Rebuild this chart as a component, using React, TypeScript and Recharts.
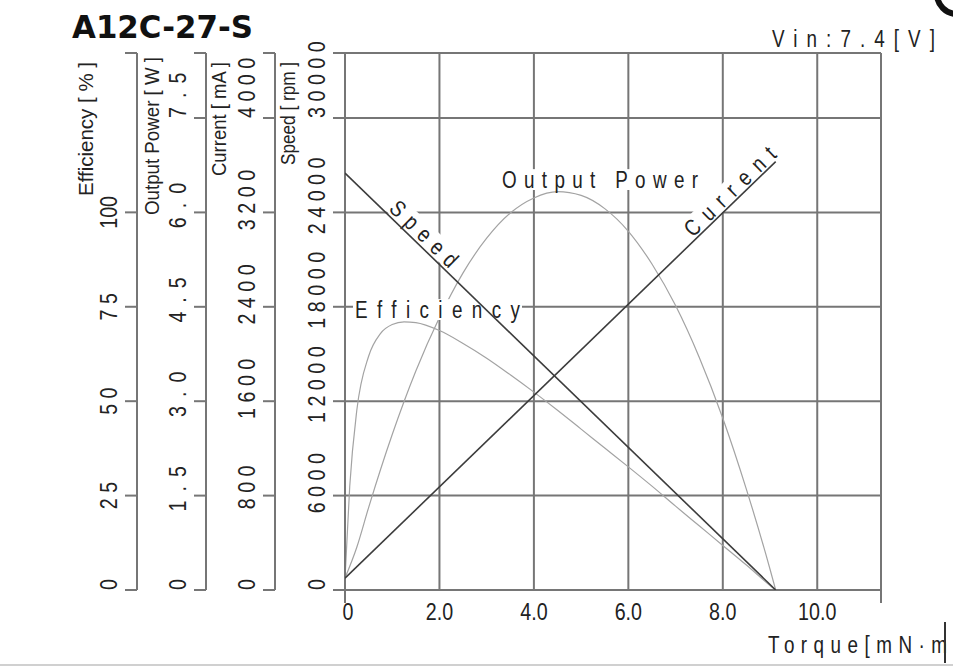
import React from 'react';
import { LineChart, Line, XAxis, YAxis, CartesianGrid } from 'recharts';

// ---------- text ----------
const TITLE = 'A12C-27-S';
const VIN_LABEL = 'Vin:7.4[V]';
const X_TITLE = 'Torque[mN·m';
const EFF_TITLE = 'Efficiency [ % ]';
const POW_TITLE = 'Output Power [ W ]';
const CUR_TITLE = 'Current [ mA ]';
const SPD_TITLE = 'Speed [ rpm ]';

// ---------- axes ----------
const torqueTicks = [0, 2, 4, 6, 8, 10];
const torqueTickLabels = ['0', '2.0', '4.0', '6.0', '8.0', '10.0'];
const torqueMax = 11.35;

const effTicks = [0, 25, 50, 75, 100];
const effTickLabels = ['0', '2 5', '5 0', '7 5', '100'];
const effMax = 142.2;

const powTicks = [0, 1.5, 3, 4.5, 6, 7.5];
const powTickLabels = ['0', '1.5', '3.0', '4.5', '6.0', '7.5'];
const powMax = 8.533;

const curTicks = [0, 800, 1600, 2400, 3200, 4000];
const curTickLabels = ['0', '800', '1600', '2400', '3200', '4000'];
const curMax = 4551;

const spdTicks = [0, 6000, 12000, 18000, 24000, 30000];
const spdTickLabels = ['0', '6000', '12000', '18000', '24000', '30000'];
const spdMax = 34130;

// ---------- series ----------
const speedTorque = [0, 9.12];
const speedValues = [26500, 0];

const currentTorque = [0, 9.12];
const currentValues = [100, 3630];

const powerTorque = [0, 0.25, 0.5, 1, 1.5, 2, 2.5, 3, 3.5, 4, 4.5, 5, 5.5, 6, 6.5, 7, 7.5, 8, 8.5, 9, 9.12];
const powerValues = [0.19, 0.68, 1.31, 2.47, 3.48, 4.33, 5.04, 5.59, 5.99, 6.23, 6.33, 6.27, 6.06, 5.7, 5.18, 4.52, 3.7, 2.73, 1.6, 0.33, 0];

const effTorque = [0, 0.1, 0.25, 0.5, 0.75, 1, 1.25, 1.5, 2, 2.5, 3, 3.5, 4, 4.5, 5, 5.5, 6, 6.5, 7, 7.5, 8, 8.5, 9, 9.12];
const effValues = [3, 27.4, 47.6, 61.9, 67.9, 70.3, 71.0, 70.8, 68.7, 65.3, 61.4, 57.0, 52.4, 47.6, 42.6, 37.6, 32.6, 27.5, 22.2, 17.0, 11.8, 6.6, 1.2, 0];

const toRows = (xs: number[], ys: number[]) => xs.map((t, i) => ({ t, v: ys[i] }));
const speedData = toRows(speedTorque, speedValues);
const currentData = toRows(currentTorque, currentValues);
const powerData = toRows(powerTorque, powerValues);
const effData = toRows(effTorque, effValues);

// ---------- style ----------
const SANS = '"Liberation Sans", Arial, sans-serif';
const SQ = 0.82; // horizontal squeeze to mimic a narrow face
const GRID = '#767676';
const TXT = '#222';
const DIGIT_W = 11;
const W = 953;
const H = 668;
const MARGIN = { top: 53, right: 72, bottom: 38, left: 68 };

type NProps = {
  x: number;
  y: number;
  rot?: number;
  size: number;
  len?: number;
  ls?: number;
  box?: boolean;
  anchor?: 'start' | 'middle' | 'end';
  adjust?: 'spacing' | 'spacingAndGlyphs';
  children: React.ReactNode;
};

const NText = ({ x, y, rot = 0, size, len, ls, box, anchor = 'start', adjust = 'spacing', children }: NProps) => (
  <g transform={`translate(${x} ${y}) rotate(${rot})`}>
    {box && len && <rect x={-2} y={-size * 0.82} width={len + 4} height={size * 0.82 + 2} fill="#fff" />}
    <text
      transform={`scale(${SQ} 1)`}
      x={0}
      y={0}
      fontSize={size}
      fill={TXT}
      fontFamily={SANS}
      textAnchor={anchor}
      letterSpacing={ls ? ls / SQ : undefined}
      textLength={len ? len / SQ : undefined}
      lengthAdjust={len ? adjust : undefined}
    >
      {children}
    </text>
  </g>
);

const estLen = (s: string, ls: number) => {
  let w = 0;
  for (const ch of s) w += ch === '.' || ch === ' ' ? DIGIT_W / 2 : DIGIT_W;
  return w + (s.length - 1) * ls;
};

const makeYTick = (ticks: number[], labels: string[], ls: number, topAtTick: boolean) => (props: any) => {
  const { x, y, payload } = props;
  const idx = ticks.indexOf(payload.value);
  if (idx < 0) return <g />;
  const label = labels[idx];
  const bx = x - 8;
  const isTop = topAtTick && idx === ticks.length - 1;
  const isZero = payload.value === 0;
  if (isTop || isZero) {
    return (
      <NText x={bx} y={y} rot={-90} size={24} ls={ls}>
        {label}
      </NText>
    );
  }
  const shift = topAtTick ? 0.25 * estLen(label, ls) : 0;
  return (
    <NText x={bx} y={y - shift} rot={-90} size={24} ls={ls} anchor="middle">
      {label}
    </NText>
  );
};

const XTick = (props: any) => {
  const { x, y, payload } = props;
  const v = payload.value;
  const idx = torqueTicks.indexOf(v);
  return (
    <g>
      {(v === 0 || v === torqueMax) && (
        <line x1={x} x2={x} y1={y} y2={y + 13} stroke={GRID} strokeWidth={2} />
      )}
      {idx >= 0 && (
        <NText x={x + (v === 0 ? 3 : 0)} y={y + 30} size={24} anchor="middle">
          {torqueTickLabels[idx]}
        </NText>
      )}
    </g>
  );
};

const axes = (visible: boolean) => {
  const line = visible ? { stroke: GRID, strokeWidth: 2 } : false;
  const common = {
    type: 'number' as const,
    interval: 0 as const,
    allowDataOverflow: true,
    tickSize: 12,
    tickMargin: 0,
    axisLine: line,
    tickLine: line,
  };
  return [
    <XAxis
      key="x"
      xAxisId="t"
      dataKey="t"
      type="number"
      domain={[0, torqueMax]}
      ticks={[...torqueTicks, torqueMax]}
      interval={0}
      allowDataOverflow
      height={40}
      tickSize={0}
      tickMargin={0}
      tickLine={false}
      axisLine={line}
      tick={visible ? XTick : false}
    />,
    <YAxis
      key="spd"
      yAxisId="y1spd"
      {...common}
      domain={[0, spdMax]}
      ticks={[...spdTicks, spdMax]}
      width={70}
      tick={visible ? makeYTick(spdTicks, spdTickLabels, 5.5, true) : false}
    />,
    <YAxis
      key="cur"
      yAxisId="y2cur"
      {...common}
      domain={[0, curMax]}
      ticks={[...curTicks, curMax]}
      width={69}
      tick={visible ? makeYTick(curTicks, curTickLabels, 5.5, true) : false}
    />,
    <YAxis
      key="pow"
      yAxisId="y3pow"
      {...common}
      domain={[0, powMax]}
      ticks={[...powTicks, powMax]}
      width={69}
      tick={visible ? makeYTick(powTicks, powTickLabels, 9, true) : false}
    />,
    <YAxis
      key="eff"
      yAxisId="y4eff"
      {...common}
      domain={[0, effMax]}
      ticks={[...effTicks, effMax]}
      width={69}
      tick={visible ? makeYTick(effTicks, effTickLabels, 0, false) : false}
    />,
  ];
};

const layer = { position: 'absolute' as const, left: 0, top: 0 };

export default function App() {
  return (
    <div style={{ position: 'absolute', left: 0, top: 0, width: W, height: H, background: '#fff' }}>
      {/* base: grid, axes, light curves */}
      <div style={layer}>
        <LineChart width={W} height={H} margin={MARGIN}>
          {axes(true)}
          <CartesianGrid xAxisId="t" yAxisId="y1spd" stroke={GRID} strokeWidth={2} />
          <Line xAxisId="t" yAxisId="y4eff" data={effData} dataKey="v" type="monotone" stroke="#a3a3a3" strokeWidth={1.2} dot={false} isAnimationActive={false} />
          <Line xAxisId="t" yAxisId="y3pow" data={powerData} dataKey="v" type="monotone" stroke="#a3a3a3" strokeWidth={1.2} dot={false} isAnimationActive={false} />
        </LineChart>
      </div>

      {/* labels with white backing */}
      <svg width={W} height={H} style={{ ...layer, pointerEvents: 'none' }}>
        <text x={72} y={38} fontSize={31.5} fontWeight="bold" fill="#111" fontFamily='"DejaVu Sans", Verdana, sans-serif' textLength={181} lengthAdjust="spacingAndGlyphs">
          {TITLE}
        </text>
        <NText x={772} y={47} size={23} len={163}>
          {VIN_LABEL}
        </NText>
        <NText x={768} y={653} size={23} len={179}>
          {X_TITLE}
        </NText>
        <line x1={945} x2={945} y1={622} y2={663} stroke="#333" strokeWidth={2} />
        <line x1={0} x2={W} y1={665} y2={665} stroke="#d0d0d0" strokeWidth={2} />
        <circle cx={957} cy={-6} r={20} fill="#fff" stroke="#111" strokeWidth={6} />

        <NText x={93} y={196} rot={-90} size={21} len={134} adjust="spacingAndGlyphs">{EFF_TITLE}</NText>
        <NText x={159} y={215} rot={-90} size={21} len={158} adjust="spacingAndGlyphs">{POW_TITLE}</NText>
        <NText x={226} y={176} rot={-90} size={21} len={114} adjust="spacingAndGlyphs">{CUR_TITLE}</NText>
        <NText x={295} y={165} rot={-90} size={21} len={103} adjust="spacingAndGlyphs">{SPD_TITLE}</NText>

        <NText x={502} y={188} size={23} len={196} box>Output Power</NText>
        <NText x={355} y={318} size={23} len={165} box>Efficiency</NText>
        <NText x={388} y={210} rot={44} size={23} len={85} box>Speed</NText>
        <NText x={693} y={238} rot={-44} size={23} len={118} box>Current</NText>
      </svg>

      {/* top: dark straight lines */}
      <div style={{ ...layer, pointerEvents: 'none' }}>
        <LineChart width={W} height={H} margin={MARGIN}>
          {axes(false)}
          <Line xAxisId="t" yAxisId="y1spd" data={speedData} dataKey="v" type="linear" stroke="#3c3c3c" strokeWidth={1.6} dot={false} isAnimationActive={false} />
          <Line xAxisId="t" yAxisId="y2cur" data={currentData} dataKey="v" type="linear" stroke="#3c3c3c" strokeWidth={1.6} dot={false} isAnimationActive={false} />
        </LineChart>
      </div>
    </div>
  );
}
